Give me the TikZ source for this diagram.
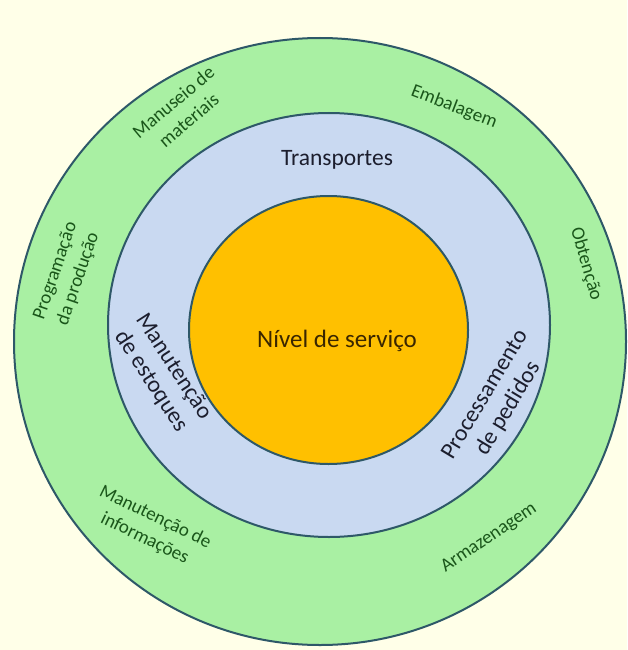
\documentclass[tikz,border=0pt]{standalone}
\usepackage{fontspec}
\setmainfont{Carlito}
\usetikzlibrary{shapes.geometric}
\definecolor{bgcream}{HTML}{FFFFE8}
\definecolor{ringgreen}{HTML}{A9F0A3}
\definecolor{ringblue}{HTML}{C9D9F1}
\definecolor{coreorange}{HTML}{FFC000}
\definecolor{edgecol}{HTML}{2E5868}
\definecolor{greentext}{HTML}{1A561A}
\definecolor{bluetext}{HTML}{1C1E2E}
\definecolor{coretext}{HTML}{3A2600}
\tikzset{
  ring/.style={ellipse, draw=edgecol, line width=2pt, inner sep=0pt},
  outerlbl/.style={text=greentext, font=\fontsize{19}{24}\selectfont, align=center, inner sep=0pt},
  midlbl/.style={text=bluetext, font=\fontsize{23.5}{27}\selectfont, align=center, inner sep=0pt},
}
\begin{document}
\begin{tikzpicture}[x=1pt,y=-1pt]
\fill[bgcream] (0,0) rectangle (627,650);
\useasboundingbox (0,0) rectangle (627,650);
\node[ring, fill=ringgreen, minimum width=612pt, minimum height=607pt] (outer) at (320,341.5) {};
\node[ring, fill=ringblue, minimum width=442pt, minimum height=424pt] (middle) at (329,325) {};
\node[ring, fill=coreorange, minimum width=279pt, minimum height=268pt] (core) at (328.5,330) {};
\node[text=coretext, font=\fontsize{25}{27}\selectfont, inner sep=0pt] (nivel) at (337,341) {Nível de serviço};
\node[midlbl] (transp) at (337,160) {Transportes};
\node[midlbl, rotate=-57] (estoq) at (162,374) {Manutenção\\de estoques};
\node[midlbl, rotate=59] (pedidos) at (497,402) {Processamento\\de pedidos};
\node[outerlbl, rotate=40] (manuseio) at (181,111) {Manuseio de\\materiais};
\node[outerlbl, rotate=-21] (embal) at (454,107) {Embalagem};
\node[outerlbl, rotate=71] (prog) at (67,275) {Programação\\da produção};
\node[outerlbl, rotate=-74] (obt) at (586,264) {Obtenção};
\node[outerlbl, rotate=-26] (info) at (150,528) {Manutenção de\\informações};
\node[outerlbl, rotate=34] (armaz) at (489,538) {Armazenagem};
\end{tikzpicture}
\end{document}
